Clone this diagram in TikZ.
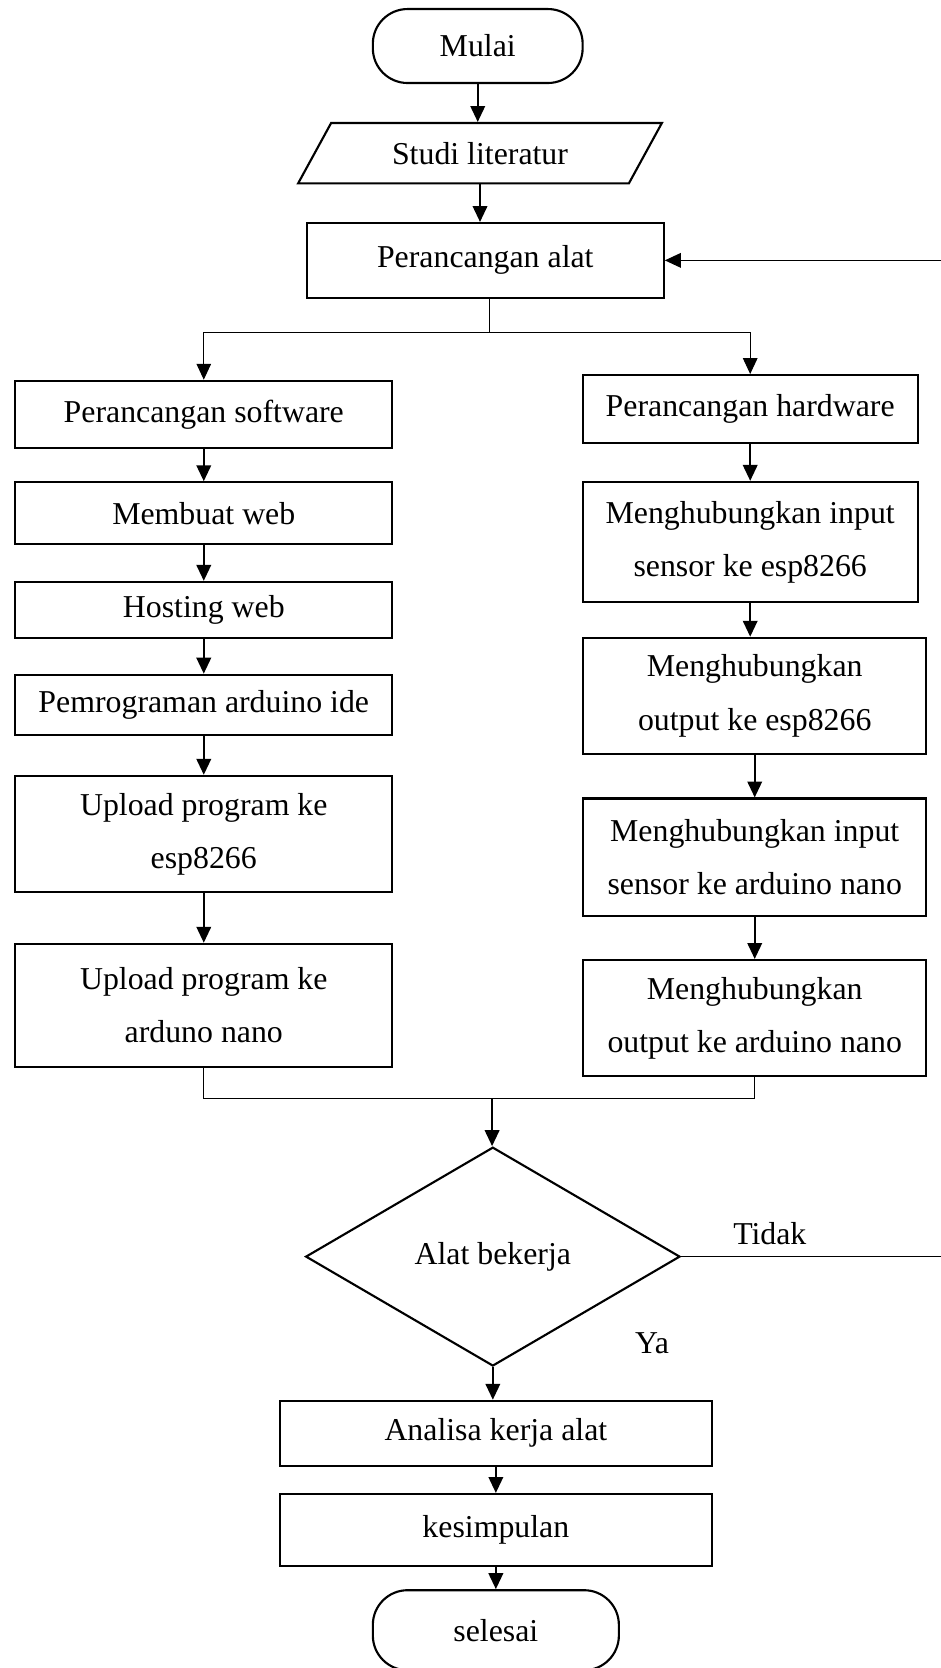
\documentclass[tikz,border=0pt]{standalone}
\usepackage{fontspec}
\setmainfont{Liberation Serif}
\usetikzlibrary{arrows.meta, shapes.geometric}

\begin{document}
\begin{tikzpicture}[x=10mm, y=10mm, >={Triangle[length=6pt,width=5.5pt]},
	font=\fontsize{12}{20}\selectfont,
	box/.style={draw, line width=0.8pt, align=center, inner sep=1pt},
	term/.style={box, rounded corners=0.46cm},
	lbox/.style={box, minimum width=4.995cm},
	rbox/.style={box, minimum width=4.545cm},
	arrow line/.style={->, line width=0.7pt},
	thin line/.style={line width=0.4pt}]
	\useasboundingbox (0,0) rectangle (12.455,-22.101);
%	\draw (0,0) rectangle (12.455,-22.101);
	\node[term, minimum width=2.78cm, minimum height=0.98cm] (mulai) at (6.33,-0.61) {Mulai};
	\node[box, trapezium, trapezium left angle=40, trapezium right angle=140, trapezium stretches body,
		minimum width=4.82cm, minimum height=0.8cm] (studi) at (6.36,-2.03) {Studi literatur};
	\node[box, minimum width=4.73cm, minimum height=0.99cm] (alat) at (6.43,-3.45) {Perancangan alat};
	% kolom kiri
	\node[lbox, minimum height=0.89cm] (soft) at (2.70,-5.49) {Perancangan software};
	\node[lbox, minimum height=0.82cm] (web) at (2.70,-6.80) {Membuat web};
	\node[lbox, minimum height=0.74cm] (host) at (2.70,-8.08) {Hosting web};
	\node[lbox, minimum height=0.80cm] (prog) at (2.70,-9.34) {Pemrograman arduino ide};
	\node[lbox, minimum height=1.54cm] (upesp) at (2.70,-11.05) {Upload program ke\\esp8266};
	\node[lbox, minimum height=1.63cm] (upnano) at (2.70,-13.32) {Upload program ke\\arduno nano};
	% kolom kanan
	\node[box, minimum width=4.44cm, minimum height=0.90cm] (hard) at (9.94,-5.42) {Perancangan hardware};
	\node[box, minimum width=4.44cm, minimum height=1.59cm] (inesp) at (9.94,-7.18) {Menghubungkan input\\sensor ke esp8266};
	\node[rbox, minimum height=1.54cm] (outesp) at (10.00,-9.22) {Menghubungkan\\output ke esp8266};
	\node[rbox, minimum height=1.56cm] (innano) at (10.00,-11.36) {Menghubungkan input\\sensor ke arduino nano};
	\node[rbox, minimum height=1.54cm] (outnano) at (10.00,-13.49) {Menghubungkan\\output ke arduino nano};
	% keputusan
	\node[box, diamond, minimum width=4.96cm, minimum height=2.90cm] (dec) at (6.53,-16.65) {Alat bekerja};
	\node (tidak) at (10.20,-16.34) {Tidak};
	\node (ya) at (8.64,-17.80) {Ya};
	\node[box, minimum width=5.72cm, minimum height=0.86cm] (analisa) at (6.57,-18.99) {Analisa kerja alat};
	\node[box, minimum width=5.72cm, minimum height=0.95cm] (kesimpulan) at (6.57,-20.27) {kesimpulan};
	\node[term, minimum width=3.26cm, minimum height=1.06cm] (selesai) at (6.57,-21.60) {selesai};

	\coordinate (split) at (6.49,-4.40);
	\coordinate (merge) at (6.52,-14.56);
	\coordinate (edge) at (12.52,-16.65);

	\draw[arrow line] (mulai.south) -- (mulai.south |- studi.north);
	\draw[arrow line] (studi.south) -- (studi.south |- alat.north);
	\draw[thin line] (alat.south -| split) -- (split);
	\draw[->, thin line] (split) -| (soft.north);
	\draw[->, thin line] (split) -| (hard.north);
	\foreach \a/\b in {soft/web, web/host, host/prog, prog/upesp, upesp/upnano,
		hard/inesp, inesp/outesp, outesp/innano, innano/outnano}
		\draw[arrow line] (\a.south) -- (\a.south |- \b.north);
	\draw[thin line] (upnano.south) |- (merge);
	\draw[thin line] (outnano.south) |- (merge);
	\draw[arrow line] (merge) -- (merge |- dec.north);
	\draw[->, thin line] (dec.east) -- (edge) |- (alat.east);
	\draw[arrow line] (dec.south) -- (dec.south |- analisa.north);
	\draw[arrow line] (analisa.south) -- (analisa.south |- kesimpulan.north);
	\draw[arrow line] (kesimpulan.south) -- (kesimpulan.south |- selesai.north);

\end{tikzpicture}
\end{document}
